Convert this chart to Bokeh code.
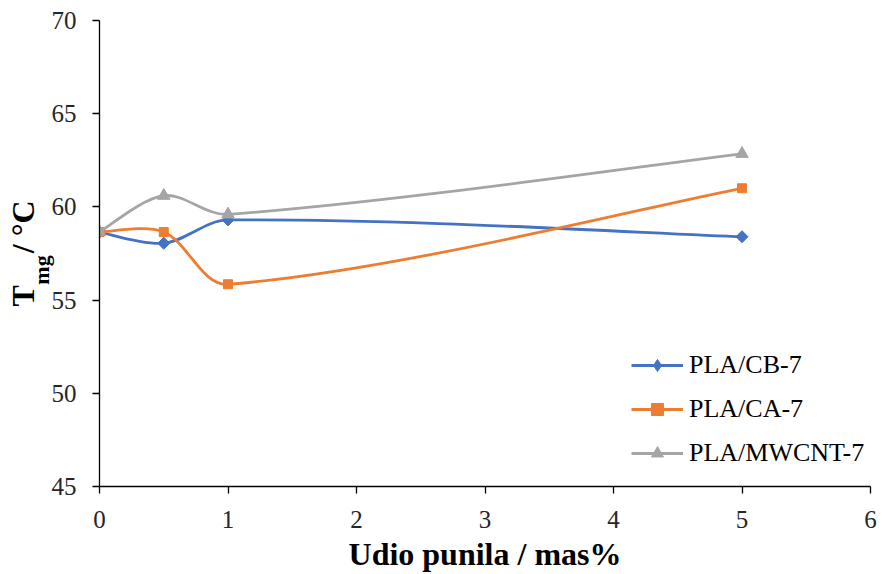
import math
from bokeh.plotting import figure
from bokeh.models import Range1d, Legend, LegendItem, Title, FixedTicker, ColumnDataSource
from bokeh.embed import file_html
from bokeh.resources import INLINE

x_vals = [0, 0.5, 1, 5]
series_names = ["PLA/CB-7", "PLA/CA-7", "PLA/MWCNT-7"]
cb7 = [58.65, 58.05, 59.3, 58.4]
ca7 = [58.65, 58.65, 55.85, 61.0]
mwcnt7 = [58.65, 60.6, 59.6, 62.85]
colors = ["#4472C4", "#ED7D31", "#A5A5A5"]
markers = ["square", "square", "triangle"]
legend_markers = ["diamond", "square", "triangle"]
marker_angles = [math.pi / 4, 0, 0]
marker_sizes = [8.5, 9, 12.5]
legend_marker_sizes = [12, 9, 12.5]
x_ticks = [0, 1, 2, 3, 4, 5, 6]
y_ticks = [45, 50, 55, 60, 65, 70]

W, H = 882, 574
ML, MR, MT, MB = 99, 12, 20, 87
FW, FH = W - ML - MR, H - MT - MB

p = figure(width=W, height=H, output_backend="svg", toolbar_location=None,
           x_range=Range1d(0, 6), y_range=Range1d(45, 70),
           min_border_left=ML, min_border_right=MR, min_border_top=MT, min_border_bottom=MB)
p.outline_line_color = None
p.grid.grid_line_color = None
p.background_fill_color = "white"
p.border_fill_color = "white"

for ax in (p.xaxis, p.yaxis):
    ax.axis_line_color = "black"
    ax.axis_line_width = 1.3
    ax.major_tick_line_color = "black"
    ax.major_tick_line_width = 1.3
    ax.major_tick_out = 7
    ax.major_tick_in = 0
    ax.minor_tick_line_color = None
    ax.major_label_text_font = "Liberation Serif"
    ax.major_label_text_font_size = "25px"
    ax.major_label_text_color = "#262626"
p.xaxis.ticker = FixedTicker(ticks=x_ticks)
p.yaxis.ticker = FixedTicker(ticks=y_ticks)
p.xaxis.major_label_standoff = 17
p.yaxis.major_label_standoff = 16
p.xaxis.axis_label = "Udio punila / mas%"
p.xaxis.axis_label_text_font = "Liberation Serif"
p.xaxis.axis_label_text_font_style = "bold"
p.xaxis.axis_label_text_font_size = "32px"
p.xaxis.axis_label_text_color = "black"
p.xaxis.axis_label_standoff = 5

# y title: subscript "mg" as the axis label (padded so it sits below centre),
# main "T  / °C" as a left-side title
p.yaxis.axis_label = "mg\u2003\u2002"
p.yaxis.axis_label_text_font = "Liberation Serif"
p.yaxis.axis_label_text_font_style = "bold"
p.yaxis.axis_label_text_font_size = "22px"
p.yaxis.axis_label_text_color = "black"
p.yaxis.axis_label_standoff = -5

ytitle = Title(text="T\u2003/ \u00b0C", align="center", vertical_align="bottom", standoff=-30,
               text_font="Liberation Serif", text_font_style="bold", text_font_size="32px",
               text_color="black")
p.add_layout(ytitle, "left")

# screen scale factors used only for the smoothing geometry
sx = FW / 6.0
sy = FH / 25.0


def smooth_bezier(xs, ys):
    pts = [(x * sx, y * sy) for x, y in zip(xs, ys)]
    n = len(pts)
    out = dict(x0=[], y0=[], x1=[], y1=[], cx0=[], cy0=[], cx1=[], cy1=[])

    def dist(a, b):
        return math.hypot(a[0] - b[0], a[1] - b[1])

    def ctrl(i, forward):
        prev = pts[max(i - 1, 0)]
        nxt = pts[min(i + 1, n - 1)]
        d = (nxt[0] - prev[0], nxt[1] - prev[1])
        lp = dist(pts[i], prev)
        ln = dist(pts[i], nxt)
        tot = lp + ln
        if tot == 0:
            return pts[i]
        if forward:
            f = ln / tot / 3.0 if (i > 0) else 1 / 6.0
            return (pts[i][0] + d[0] * f, pts[i][1] + d[1] * f)
        else:
            f = lp / tot / 3.0 if (i < n - 1) else 1 / 6.0
            return (pts[i][0] - d[0] * f, pts[i][1] - d[1] * f)

    for i in range(n - 1):
        c0 = ctrl(i, True)
        c1 = ctrl(i + 1, False)
        out["x0"].append(pts[i][0] / sx); out["y0"].append(pts[i][1] / sy)
        out["x1"].append(pts[i + 1][0] / sx); out["y1"].append(pts[i + 1][1] / sy)
        out["cx0"].append(c0[0] / sx); out["cy0"].append(c0[1] / sy)
        out["cx1"].append(c1[0] / sx); out["cy1"].append(c1[1] / sy)
    return out


items = []
nan = float("nan")
for name, ys, col, mk, lmk, ang, ms, lms in zip(series_names, [cb7, ca7, mwcnt7], colors, markers,
                                                legend_markers, marker_angles, marker_sizes,
                                                legend_marker_sizes):
    src = ColumnDataSource(smooth_bezier(x_vals, ys))
    p.bezier(x0="x0", y0="y0", x1="x1", y1="y1", cx0="cx0", cy0="cy0", cx1="cx1", cy1="cy1",
             source=src, line_color=col, line_width=2.8)
    p.scatter(x_vals, ys, marker=mk, angle=ang, size=ms, fill_color=col, line_color=col)
    leg_line = p.line(x=[nan], y=[nan], line_color=col, line_width=2.8)
    leg_mark = p.scatter(x=[nan], y=[nan], marker=lmk, size=lms, fill_color=col, line_color=col)
    items.append(LegendItem(label=name, renderers=[leg_line, leg_mark]))

legend = Legend(items=items, location=(532, 18), orientation="vertical")
legend.label_text_font = "Liberation Serif"
legend.label_text_font_size = "26px"
legend.label_text_color = "black"
legend.glyph_width = 52
legend.glyph_height = 30
legend.label_height = 30
legend.label_standoff = 6
legend.spacing = 14
legend.padding = 0
legend.margin = 0
legend.border_line_color = None
legend.background_fill_alpha = 0
p.add_layout(legend, "center")

open("out.html", "w").write(file_html(p, INLINE))
